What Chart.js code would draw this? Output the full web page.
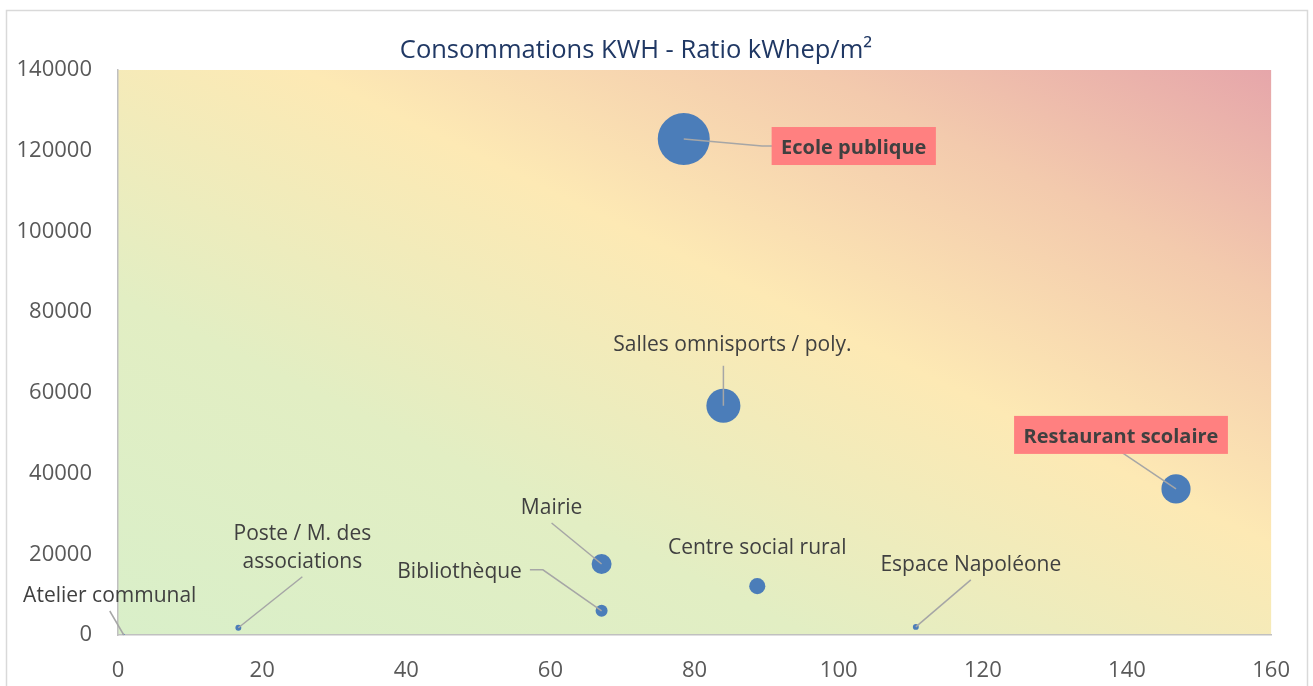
<!DOCTYPE html>
<html>
<head>
<meta charset="utf-8">
<script src="https://cdn.jsdelivr.net/npm/chart.js@4"></script>
<style>
  html, body { margin: 0; padding: 0; background: #ffffff; }
  #wrap { width: 1313px; height: 686px; position: relative; }
</style>
</head>
<body>
<div id="wrap"><canvas id="bubble-chart"></canvas></div>
<script>
// Buildings, ratio kWhep/m² (x), consumption kWh (y), surface (bubble size)
const buildings = [
  'Ecole publique',
  'Salles omnisports / poly.',
  'Restaurant scolaire',
  'Mairie',
  'Bibliothèque',
  'Centre social rural',
  'Espace Napoléone',
  'Poste / M. des associations',
  'Atelier communal'
];
const ratios = [78.5, 84.0, 146.8, 67.1, 67.1, 88.7, 110.7, 16.7, 0.8];
const consumptions = [122900, 56800, 36200, 17600, 6000, 12100, 2000, 1800, 0];
const surfaces = [1560, 670, 490, 230, 83, 150, 20, 20, 3];

// buildings flagged in red
const alertBuildings = ['Ecole publique', 'Restaurant scolaire'];

const xTicks = [0, 20, 40, 60, 80, 100, 120, 140, 160];
const yTicks = [0, 20000, 40000, 60000, 80000, 100000, 120000, 140000];

const chartTitle = 'Consommations KWH - Ratio kWhep/m²';

// label placement (pixel offset of the label centre from the bubble)
const labelLayout = {
  'Ecole publique': { dx: 170, dy: 7, side: 'left' },
  'Salles omnisports / poly.': { dx: 9, dy: -63, vertical: true },
  'Restaurant scolaire': { dx: -55, dy: -54 },
  'Mairie': { dx: -50, dy: -58 },
  'Bibliothèque': { dx: -142, dy: -41, side: 'right' },
  'Centre social rural': { dx: 0, dy: -40, leader: false },
  'Espace Napoléone': { dx: 55, dy: -64 },
  'Poste / M. des associations': { dx: 64, dy: -82, lines: ['Poste / M. des', 'associations'] },
  'Atelier communal': { dx: -14, dy: -41 }
};

const FONT = '"Open Sans", "Noto Sans", sans-serif';
const maxSurface = Math.max(...surfaces);

const points = buildings.map((name, i) => ({
  x: ratios[i],
  y: consumptions[i],
  r: 26 * Math.sqrt(surfaces[i] / maxSurface)
}));

// gradient background green -> yellow -> red, plus the outer frame
const backgroundPlugin = {
  id: 'zoneBackground',
  beforeDraw(chart) {
    const { ctx, chartArea: a } = chart;
    const w = a.right - a.left;
    const h = a.bottom - a.top;
    // isolines parallel to the top-left / bottom-right diagonal
    const gx = 1 / (2 * w), gy = 1 / (2 * h);
    const g2 = gx * gx + gy * gy;
    const grad = ctx.createLinearGradient(a.left, a.bottom, a.left + gx / g2, a.bottom - gy / g2);
    grad.addColorStop(0, '#d9efc9');
    grad.addColorStop(0.3, '#e2eec3');
    grad.addColorStop(0.58, '#fde9b4');
    grad.addColorStop(0.8, '#f3caad');
    grad.addColorStop(1, '#e6a6aa');
    ctx.save();
    ctx.fillStyle = grad;
    ctx.fillRect(a.left, a.top, w, h);
    ctx.strokeStyle = '#d9d9d9';
    ctx.lineWidth = 1.5;
    ctx.strokeRect(6.5, 10.5, 1301, 700);
    ctx.restore();
  }
};

// data labels with leader lines
const labelPlugin = {
  id: 'bubbleLabels',
  afterDatasetsDraw(chart) {
    const ctx = chart.ctx;
    const meta = chart.getDatasetMeta(0);
    meta.data.forEach((pt, i) => {
      const name = buildings[i];
      const lay = labelLayout[name];
      const lines = lay.lines || [name];
      const alert = alertBuildings.includes(name);
      const lineH = 28;
      ctx.save();
      ctx.font = alert ? 'bold 20px ' + FONT : '21px ' + FONT;
      const cx = pt.x + lay.dx;
      const cy = pt.y + lay.dy;
      const w = Math.max(...lines.map(l => ctx.measureText(l).width));

      if (lay.leader !== false) {
        ctx.strokeStyle = '#a6a6a6';
        ctx.lineWidth = 1.5;
        ctx.beginPath();
        if (lay.side === 'left') {
          const sx = cx - w / 2 - 9;
          ctx.moveTo(sx, cy);
          ctx.lineTo(sx - 10, cy);
        } else if (lay.side === 'right') {
          const sx = cx + w / 2 + 8;
          ctx.moveTo(sx, cy);
          ctx.lineTo(sx + 13, cy);
        } else {
          const sy = cy + (lines.length - 1) * lineH / 2 + (lay.vertical ? 23 : 17);
          ctx.moveTo(lay.vertical ? pt.x : cx, sy);
        }
        ctx.lineTo(pt.x, pt.y);
        ctx.stroke();
      }

      if (alert) {
        ctx.fillStyle = '#ff8080';
        ctx.fillRect(cx - w / 2 - 9.5, cy - 19, w + 19, 38);
      }
      ctx.fillStyle = '#404040';
      ctx.textAlign = 'center';
      ctx.textBaseline = 'middle';
      lines.forEach((l, k) => {
        ctx.fillText(l, cx, cy + 2 + (k - (lines.length - 1) / 2) * lineH);
      });
      ctx.restore();
    });
  }
};

new Chart(document.getElementById('bubble-chart'), {
  type: 'bubble',
  data: {
    datasets: [{
      label: 'Consommations',
      data: points,
      backgroundColor: '#4b7db9',
      borderColor: '#4b7db9',
      borderWidth: 0
    }]
  },
  options: {
    responsive: true,
    maintainAspectRatio: false,
    animation: false,
    events: [],
    layout: {
      padding: { left: 0, right: 41, top: 0, bottom: 0 }
    },
    plugins: {
      legend: { display: false },
      tooltip: { enabled: false },
      title: {
        display: true,
        text: chartTitle,
        color: '#203864',
        font: { family: FONT, size: 25.5, weight: 'normal' },
        padding: { top: 35.7, bottom: 3.7 }
      }
    },
    scales: {
      x: {
        type: 'linear',
        min: xTicks[0],
        max: xTicks[xTicks.length - 1],
        afterBuildTicks: scale => { scale.ticks = xTicks.map(v => ({ value: v })); },
        afterFit: scale => { scale.height = 51; },
        grid: { display: false, drawTicks: false },
        border: { display: true, color: '#c0c0c0', width: 1.5 },
        ticks: {
          color: '#595959',
          padding: 23,
          maxRotation: 0,
          font: { family: FONT, size: 22 }
        }
      },
      y: {
        type: 'linear',
        min: yTicks[0],
        max: yTicks[yTicks.length - 1],
        afterBuildTicks: scale => { scale.ticks = yTicks.map(v => ({ value: v })); },
        afterFit: scale => { scale.width = 118; },
        grid: { display: false, drawTicks: false },
        border: { display: true, color: '#c0c0c0', width: 1.5 },
        ticks: {
          color: '#595959',
          padding: 26,
          font: { family: FONT, size: 22 },
          callback: v => String(v)
        }
      }
    }
  },
  plugins: [backgroundPlugin, labelPlugin]
});
</script>
</body>
</html>
